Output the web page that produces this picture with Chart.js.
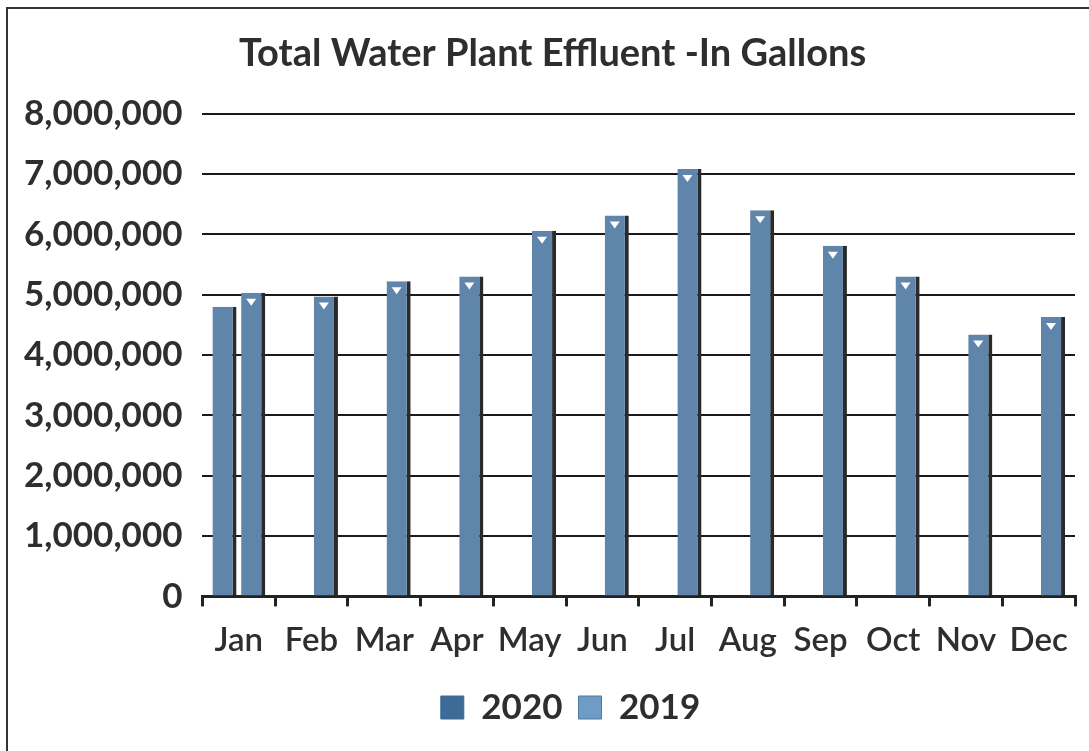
<!DOCTYPE html>
<html>
<head>
<meta charset="utf-8">
<title>Total Water Plant Effluent</title>
<script src="https://cdn.jsdelivr.net/npm/chart.js@4.4.1/dist/chart.umd.min.js"></script>
<style>
	html, body { margin: 0; padding: 0; background: #fff; }
	#wrap { position: relative; width: 1089px; height: 751px; }
	#frame {
		position: absolute; left: 6px; top: 7px; right: 0; bottom: -4px;
		border-left: 2px solid #333; border-top: 2px solid #333;
		pointer-events: none;
	}
</style>
</head>
<body>
<div id="wrap">
	<canvas id="effluentChart" width="1089" height="751"></canvas>
	<div id="frame"></div>
</div>
<script>
const months = ["Jan", "Feb", "Mar", "Apr", "May", "Jun", "Jul", "Aug", "Sep", "Oct", "Nov", "Dec"];
const gallons2020 = [4800000, null, null, null, null, null, null, null, null, null, null, null];
const gallons2019 = [5030000, 4970000, 5220000, 5300000, 6060000, 6310000, 7080000, 6400000, 5810000, 5300000, 4340000, 4630000];
const yTicks = [0, 1000000, 2000000, 3000000, 4000000, 5000000, 6000000, 7000000, 8000000];

const barBlue = "#5f85aa";
const shadow = "#2a2a2a";
const ink = "#2e2e2e";

// small white notch drawn near the top of each 2019 bar
const notchPlugin = {
	id: "notches",
	afterDatasetsDraw(chart) {
		const ctx = chart.ctx;
		const meta = chart.getDatasetMeta(1);
		ctx.save();
		ctx.fillStyle = "#ffffff";
		meta.data.forEach(function (bar) {
			const cx = bar.x - 2;
			const top = bar.y + 6;
			ctx.beginPath();
			ctx.moveTo(cx - 5, top);
			ctx.lineTo(cx + 5, top);
			ctx.lineTo(cx, top + 7);
			ctx.closePath();
			ctx.fill();
		});
		ctx.restore();
	},
};

// title and legend sit a little right of the canvas centre in the original
const boxShift = {
	id: "boxShift",
	afterLayout(chart) {
		chart.legend.left += 31;
		chart.legend.right += 31;
		chart.titleBlock.left += 13;
		chart.titleBlock.right += 13;
	},
};

new Chart(document.getElementById("effluentChart"), {
	type: "bar",
	data: {
		labels: months,
		datasets: [
			{
				label: "2020",
				data: gallons2020,
				backgroundColor: barBlue,
				borderColor: shadow,
				borderWidth: { top: 0, left: 0, bottom: 0, right: 4 },
				borderSkipped: false,
			},
			{
				label: "2019",
				data: gallons2019,
				backgroundColor: barBlue,
				borderColor: shadow,
				borderWidth: { top: 0, left: 0, bottom: 0, right: 4 },
				borderSkipped: false,
			},
		],
	},
	options: {
		responsive: false,
		animation: false,
		categoryPercentage: 0.79,
		barPercentage: 0.84,
		layout: { padding: { top: 31, left: 4, right: 14, bottom: 16 } },
		scales: {
			x: {
				grid: {
					drawOnChartArea: false,
					drawTicks: true,
					tickLength: 10,
					color: "#222",
					lineWidth: 3,
				},
				border: { display: true, color: "#222", width: 3 },
				ticks: {
					color: ink,
					padding: 14,
					font: { family: "Lato", size: 33, weight: "600" },
					maxRotation: 0,
				},
			},
			y: {
				min: 0,
				max: 8000000,
				afterBuildTicks: function (axis) {
					axis.ticks = yTicks.map((v) => ({ value: v }));
				},
				grid: { color: "#1a1a1a", lineWidth: 2, drawTicks: false },
				border: { display: false },
				ticks: {
					color: ink,
					padding: 20,
					font: { family: "Lato", size: 35, weight: "bold" },
					callback: (v) => Number(v).toLocaleString("en-US"),
				},
			},
		},
		plugins: {
			title: {
				display: true,
				text: "Total Water Plant Effluent -In Gallons",
				color: ink,
				font: { family: "Lato", size: 38, weight: "bold" },
				padding: { top: 0, bottom: 37 },
			},
			legend: {
				position: "bottom",
				labels: {
					color: ink,
					boxWidth: 23,
					boxHeight: 23,
					padding: 16,
					font: { family: "Lato", size: 35, weight: "bold" },
					generateLabels: function (chart) {
						return chart.data.datasets.map(function (ds, i) {
							return {
								text: ds.label,
								fillStyle: i === 0 ? "#3d6a96" : "#6e9cc4",
								strokeStyle: i === 0 ? "#3d6a96" : "#4d7aa3",
								lineWidth: 1,
								fontColor: ink,
								datasetIndex: i,
							};
						});
					},
				},
			},
			tooltip: { enabled: false },
		},
	},
	plugins: [notchPlugin, boxShift],
});
</script>
</body>
</html>
